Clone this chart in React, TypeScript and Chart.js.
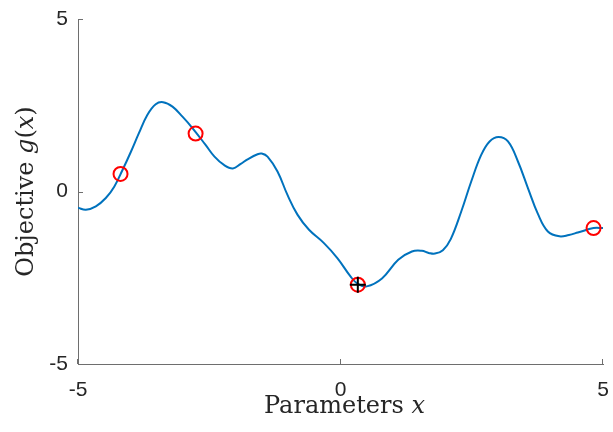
import React, { useEffect, useRef } from "react";
import { Chart, registerables } from "chart.js";

Chart.register(...registerables);

// Objective curve samples
const curveX = [
  -5.0, -4.85, -4.66, -4.47, -4.31, -4.15, -3.99, -3.84, -3.68, -3.52, -3.38, -3.2, -3.01, -2.82, -2.57,
  -2.4, -2.22, -2.05, -1.9, -1.77, -1.58, -1.5, -1.39, -1.2, -1.01, -0.82, -0.6, -0.32, -0.06, 0.19,
  0.33, 0.5, 0.79, 1.1, 1.36, 1.55, 1.68, 1.8, 1.95, 2.1, 2.3, 2.49, 2.68, 2.84, 3.01, 3.19, 3.38, 3.57,
  3.76, 3.95, 4.17, 4.35, 4.52, 4.82, 5.0,
];
const curveY = [
  -0.47, -0.53, -0.43, -0.19, 0.14, 0.63, 1.16, 1.69, 2.22, 2.53, 2.59, 2.46, 2.17, 1.84, 1.35,
  1.01, 0.77, 0.67, 0.8, 0.93, 1.08, 1.1, 1.01, 0.58, -0.1, -0.67, -1.11, -1.49, -1.93, -2.46,
  -2.68, -2.75, -2.52, -1.98, -1.74, -1.72, -1.78, -1.8, -1.7, -1.38, -0.58, 0.29, 1.06, 1.45, 1.58, 1.45, 0.87, 0.1,
  -0.65, -1.16, -1.3, -1.26, -1.19, -1.06, -1.06,
];

// Sampled points (red circles)
const sampleX = [-4.19, -2.76, 0.33, 4.82];
const sampleY = [0.51, 1.68, -2.7, -1.06];

// Best point (black plus)
const bestX = [0.33];
const bestY = [-2.7];

// Axis ticks
const tickValues = [-5, 0, 5];
const tickLabels = ["-5", "0", "5"];

const AXIS_COLOR = "#6e6e6e";
const TEXT_COLOR = "#262626";
const SERIF = '"DejaVu Serif", serif';

const axisDecor = {
  id: "axisDecor",
  afterDraw(chart: any) {
    const { ctx, chartArea, scales } = chart;
    const xs = scales.x;
    const ys = scales.y;
    ctx.save();
    // inward ticks
    ctx.strokeStyle = AXIS_COLOR;
    ctx.lineWidth = 1;
    tickValues.forEach((v) => {
      const px = Math.round(xs.getPixelForValue(v)) - 0.5;
      ctx.beginPath();
      ctx.moveTo(px, chartArea.bottom);
      ctx.lineTo(px, chartArea.bottom - 5);
      ctx.stroke();
      const py = Math.round(ys.getPixelForValue(v)) + 0.5;
      ctx.beginPath();
      ctx.moveTo(chartArea.left, py);
      ctx.lineTo(chartArea.left + 5, py);
      ctx.stroke();
    });

    // axis titles with italic math parts
    ctx.fillStyle = TEXT_COLOR;
    ctx.textBaseline = "alphabetic";
    ctx.textAlign = "left";
    const drawParts = (parts: [string, boolean][], cx: number) => {
      let total = 0;
      const widths = parts.map(([t, it]) => {
        ctx.font = `${it ? "italic " : ""}24px ${SERIF}`;
        const w = ctx.measureText(t).width;
        total += w;
        return w;
      });
      let x0 = cx - total / 2;
      parts.forEach(([t, it], i) => {
        ctx.font = `${it ? "italic " : ""}24px ${SERIF}`;
        ctx.fillText(t, x0, 0);
        x0 += widths[i];
      });
    };

    const cxPlot = (chartArea.left + chartArea.right) / 2;
    const cyPlot = (chartArea.top + chartArea.bottom) / 2;

    ctx.save();
    ctx.translate(0, 413);
    drawParts(
      [
        ["Parameters ", false],
        ["x", true],
      ],
      cxPlot + 4
    );
    ctx.restore();

    ctx.save();
    ctx.translate(33, cyPlot);
    ctx.rotate(-Math.PI / 2);
    drawParts(
      [
        ["Objective ", false],
        ["g", true],
        ["(", false],
        ["x", true],
        [")", false],
      ],
      0
    );
    ctx.restore();

    ctx.restore();
  },
};

export default function App() {
  const canvasRef = useRef<HTMLCanvasElement | null>(null);

  useEffect(() => {
    if (!canvasRef.current) return;
    const tickFont = { family: '"Liberation Sans", Arial, sans-serif', size: 21 };
    const zeroPad = (s: any) => {
      s.paddingLeft = 0;
      s.paddingRight = 0;
      s.paddingTop = 0;
      s.paddingBottom = 0;
    };
    const chart = new Chart(canvasRef.current, {
      type: "line",
      data: {
        datasets: [
          {
            type: "line",
            data: curveX.map((x, i) => ({ x, y: curveY[i] })),
            borderColor: "#0072BD",
            borderWidth: 2,
            pointRadius: 0,
            tension: 0.4,
            fill: false,
            order: 3,
          },
          {
            type: "scatter",
            data: sampleX.map((x, i) => ({ x, y: sampleY[i] })),
            showLine: false,
            pointStyle: "circle",
            pointRadius: 7,
            borderWidth: 2,
            borderColor: "#ff0000",
            backgroundColor: "rgba(0,0,0,0)",
            order: 2,
          },
          {
            type: "scatter",
            data: bestX.map((x, i) => ({ x, y: bestY[i] })),
            showLine: false,
            pointStyle: "cross",
            pointRadius: 8,
            borderWidth: 2,
            borderColor: "#000000",
            backgroundColor: "#000000",
            order: 1,
          },
        ] as any,
      },
      options: {
        animation: false,
        responsive: false,
        devicePixelRatio: 1,
        layout: { padding: { top: 19, right: 7, left: 0, bottom: 0 } },
        plugins: { legend: { display: false }, tooltip: { enabled: false } },
        events: [],
        scales: {
          x: {
            type: "linear",
            min: -5,
            max: 5,
            afterBuildTicks: (s: any) => {
              s.ticks = tickValues.map((v) => ({ value: v }));
            },
            afterFit: (s: any) => {
              s.height = 68;
              zeroPad(s);
            },
            ticks: {
              callback: (v: any) => tickLabels[tickValues.indexOf(Number(v))],
              font: tickFont,
              color: TEXT_COLOR,
              padding: 14,
              maxRotation: 0,
              autoSkip: false,
            },
            grid: { display: true, drawOnChartArea: false, drawTicks: false },
            border: { display: true, color: AXIS_COLOR, width: 1 },
          },
          y: {
            type: "linear",
            min: -5,
            max: 5,
            afterBuildTicks: (s: any) => {
              s.ticks = tickValues.map((v) => ({ value: v }));
            },
            afterFit: (s: any) => {
              s.width = 78;
              zeroPad(s);
            },
            ticks: {
              callback: (v: any) => tickLabels[tickValues.indexOf(Number(v))],
              font: tickFont,
              color: TEXT_COLOR,
              padding: 10,
              autoSkip: false,
            },
            grid: { display: true, drawOnChartArea: false, drawTicks: false },
            border: { display: true, color: AXIS_COLOR, width: 1 },
          },
        },
      } as any,
      plugins: [axisDecor],
    });
    return () => chart.destroy();
  }, []);

  return (
    <div style={{ position: "fixed", left: 0, top: 0, width: 613, height: 432, background: "#fff" }}>
      <canvas ref={canvasRef} width={613} height={432} style={{ width: 613, height: 432 }} />
    </div>
  );
}
